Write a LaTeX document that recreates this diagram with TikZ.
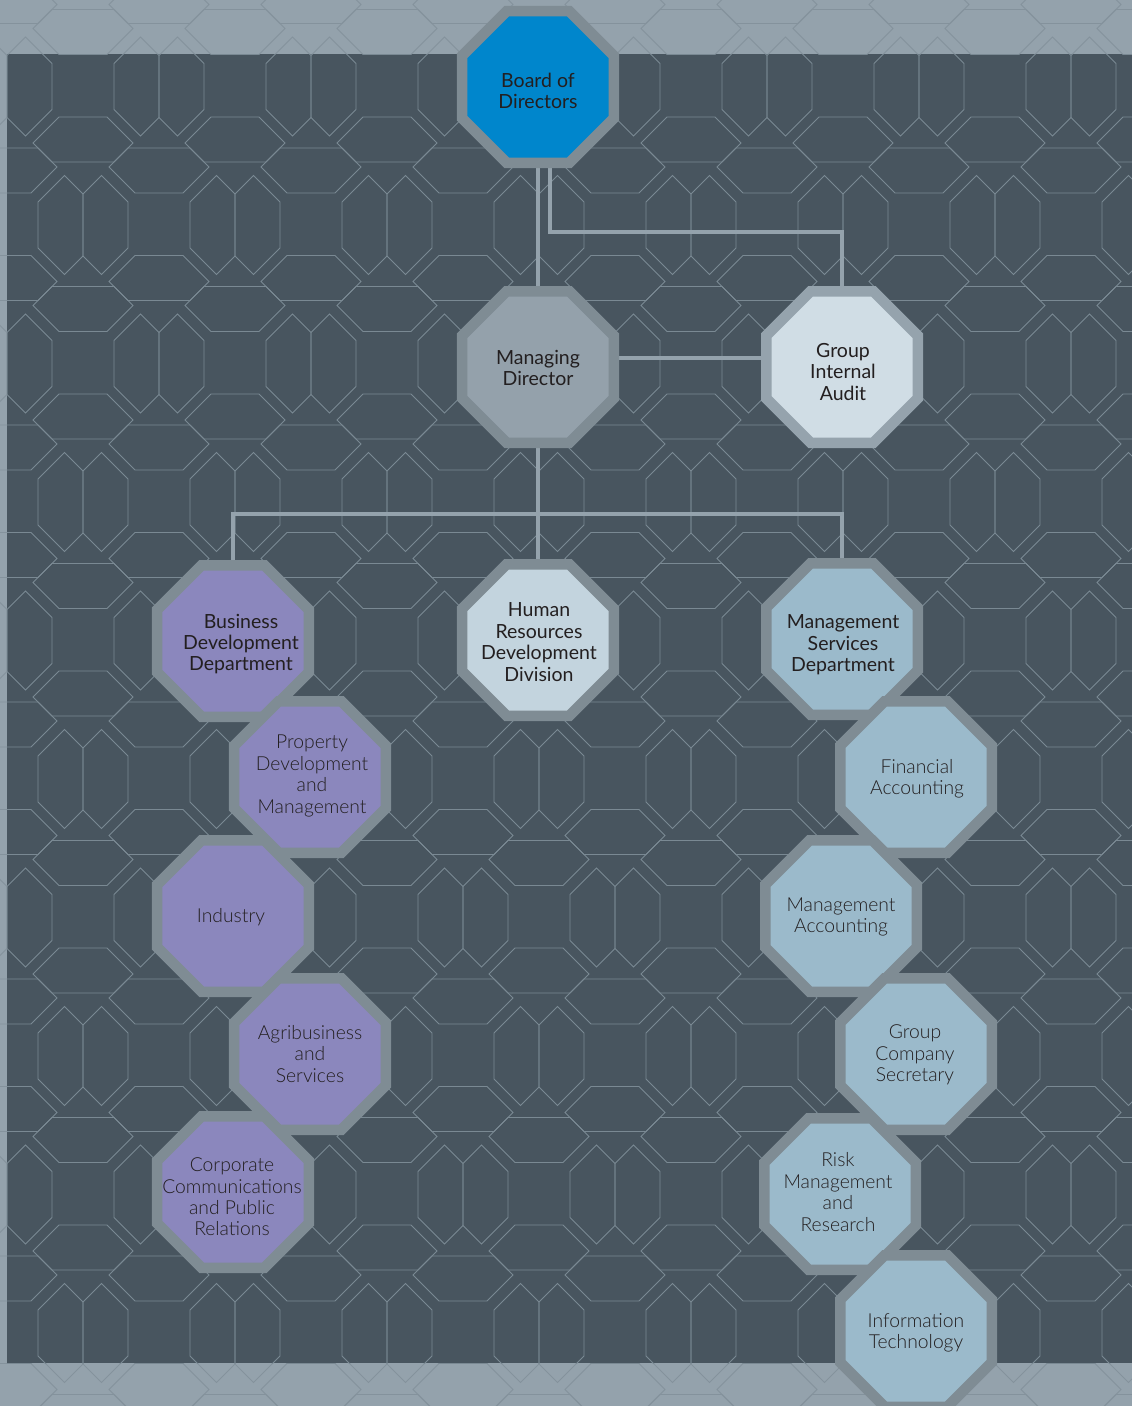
\documentclass[tikz,border=0pt]{standalone}
\usepackage{fontspec}
\setmainfont{Lato}
\newfontfamily\lightfont{Lato Light}
\usetikzlibrary{shapes.geometric}
\definecolor{bandcol}{HTML}{94A2AC}
\definecolor{bandline}{HTML}{84929C}
\definecolor{darkbg}{HTML}{48555F}
\definecolor{patline}{HTML}{7A8993}
\definecolor{linkcol}{HTML}{94A2AC}
\definecolor{octborder}{HTML}{7F8C94}
\definecolor{octborderlt}{HTML}{95A3AD}
\definecolor{boardfill}{HTML}{0086CC}
\definecolor{mdfill}{HTML}{94A1AB}
\definecolor{giafill}{HTML}{D0DDE5}
\definecolor{hrfill}{HTML}{C3D4DE}
\definecolor{purplefill}{HTML}{8B87BD}
\definecolor{bluefill}{HTML}{9BBACB}
\definecolor{textcol}{HTML}{231F20}
\pgfdeclarelayer{bg}
\pgfdeclarelayer{mid}
\pgfsetlayers{bg,mid,main}
\newcommand\tileunit{%
  \draw (-18.5,0) -- (0,18.5) -- (0,80.5) -- (-18.5,99) -- (-45,72.5) -- (-45,26.5) -- cycle;
  \draw (18.5,0) -- (0,18.5) -- (0,80.5) -- (18.5,99) -- (45,72.5) -- (45,26.5) -- cycle;
  \draw (-126,106) -- (-100,80) -- (-52,80) -- (-26,106) -- (-45,125) -- (-107,125) -- cycle;
  \draw (-31,111) -- (31,111) -- (50,130) -- (24,156) -- (-24,156) -- (-50,130) -- cycle;
}
\newcommand\drawpattern{%
  \foreach \j in {0,...,11} {
    \pgfmathsetmacro\yo{-101.5+138.5*\j}
    \pgfmathsetmacro\xo{83-76*mod(\j,2)}
    \foreach \m in {-1,...,8} {
      \begin{scope}[shift={({\xo+152*\m},\yo)}]
        \tileunit
      \end{scope}
    }
  }%
}
\tikzset{
  oct/.style={shape=regular polygon, regular polygon sides=8, minimum size=164pt,
    inner sep=0pt, outer sep=0pt, line width=10.5pt, draw=octborder, line join=miter},
  title/.style={align=center, text=textcol, inner sep=0pt, font=\fontsize{19.5}{21.4}\selectfont},
  sub/.style={align=center, text=textcol, inner sep=0pt, font=\lightfont\fontsize{19.3}{21.4}\selectfont},
  link/.style={draw=linkcol, line width=3.5pt},
  pat/.style={line width=0.9pt},
}
\begin{document}
\begin{tikzpicture}[x=1pt,y=-1pt]
\useasboundingbox (0,0) rectangle (1132,1406);
\begin{pgfonlayer}{bg}
  \fill[bandcol] (0,0) rectangle (1132,1406);
  \begin{scope}[color=bandline, pat]
    \drawpattern
  \end{scope}
  \fill[darkbg] (7,54) rectangle (1132,1363);
  \begin{scope}
    \clip (7,54) rectangle (1132,1363);
    \begin{scope}[color=patline, pat]
      \drawpattern
    \end{scope}
  \end{scope}
\end{pgfonlayer}

% octagons
\node[oct, fill=boardfill] (bod) at (538,87) {};
\node[oct, fill=mdfill] (md) at (538,367) {};
\node[oct, fill=giafill, draw=octborderlt] (gia) at (842,367) {};
\node[oct, fill=hrfill] (hr) at (538,640) {};
\node[oct, fill=purplefill] (bd) at (233,641) {};
\node[oct, fill=purplefill] (pd) at (310,777) {};
\node[oct, fill=purplefill] (ind) at (233,916) {};
\node[oct, fill=purplefill] (agri) at (310,1054) {};
\node[oct, fill=purplefill] (cc) at (233,1192) {};
\node[oct, fill=bluefill] (ms) at (842,639) {};
\node[oct, fill=bluefill] (fa) at (916,777) {};
\node[oct, fill=bluefill] (ma) at (841,916) {};
\node[oct, fill=bluefill] (gcs) at (916,1054) {};
\node[oct, fill=bluefill] (rm) at (840,1194) {};
\node[oct, fill=bluefill] (it) at (916,1331) {};

% connectors
\begin{pgfonlayer}{mid}
  \coordinate (j1) at (550,232);
  \coordinate (j2) at (842,232);
  \coordinate (bus) at (538,514);
  \draw[link] (bod) -- (md);
  \draw[link] (bod.center -| j1) -- (j1) -- (j2) -- (gia);
  \draw[link] ([yshift=9pt]md.center) -- ([yshift=9pt]gia.center);
  \draw[link] (md) -- (hr);
  \draw[link] (bd) -- (bd |- bus) -- (ms |- bus) -- (ms);
\end{pgfonlayer}

% labels
\node[title] (bod-t) at (538,91) {Board of\\Directors};
\node[title] (md-t) at (538,368) {Managing\\Director};
\node[title] (gia-t) at (843,372) {Group\\Internal\\Audit};
\node[title] (bd-t) at (241,644) {Business\\Development\\Department};
\node[title] (hr-t) at (539,642) {Human\\Resources\\Development\\Division};
\node[title] (ms-t) at (843,645) {Management\\Services\\Department};
\node[sub] (pd-t) at (312,776) {Property\\Development\\and\\Management};
\node[sub] (fa-t) at (917,779) {Financial\\Accounting};
\node[sub] (ind-t) at (231,917) {Industry};
\node[sub] (ma-t) at (841,917) {Management\\Accounting};
\node[sub] (agri-t) at (310,1054) {Agribusiness\\and\\Services};
\node[sub] (gcs-t) at (915,1055) {Group\\Company\\Secretary};
\node[sub] (cc-t) at (232,1197) {Corporate\\Communications\\and Public\\Relations};
\node[sub] (rm-t) at (838,1192) {Risk\\Management\\and\\Research};
\node[sub] (it-t) at (916,1333) {Information\\Technology};
\end{tikzpicture}
\end{document}
